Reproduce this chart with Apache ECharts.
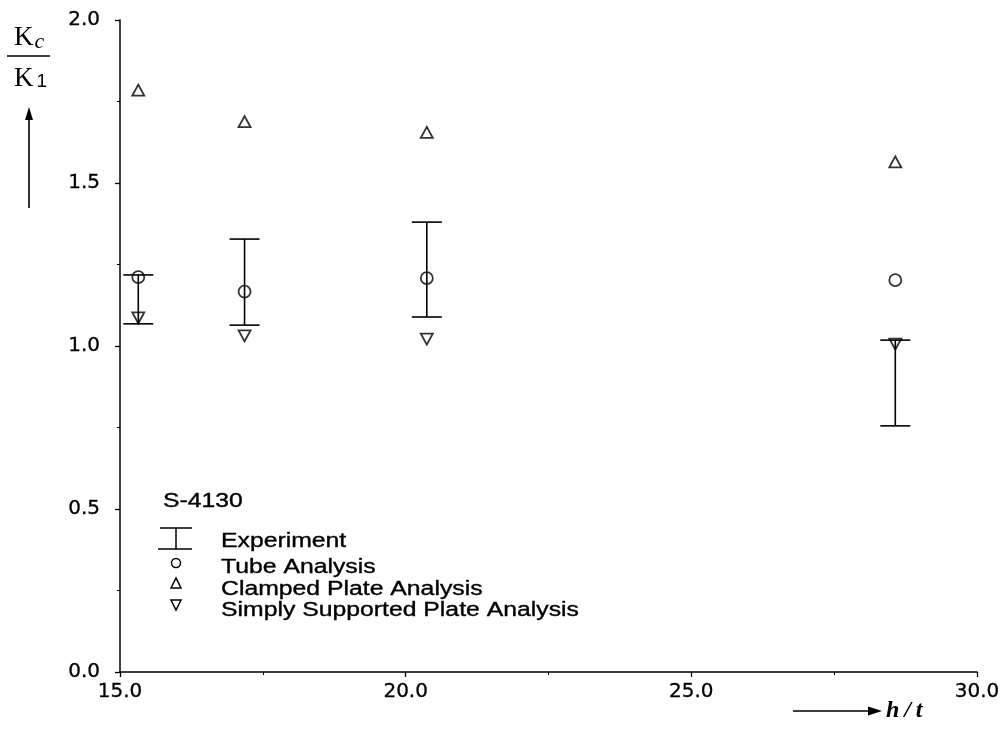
<!DOCTYPE html>
<html>
<head>
<meta charset="utf-8">
<script src="https://cdn.jsdelivr.net/npm/echarts@6/dist/echarts.min.js"></script>
<style>
  html, body { margin: 0; padding: 0; background: #fff; }
  #chart { width: 1005px; height: 740px; }
</style>
</head>
<body>
<div id="chart"></div>
<script>
// h/t ratio of each tested section
const hOverT = [15.32, 17.18, 20.37, 28.57];
// Experimental scatter band (low / high) of Kc/K1
const expLow = [1.068, 1.064, 1.089, 0.755];
const expHigh = [1.218, 1.328, 1.380, 1.018];
// Analytical predictions
const tubeAnalysis = [1.211, 1.167, 1.208, 1.202];
const clampedPlate = [1.785, 1.688, 1.655, 1.565];
const simplySupported = [1.086, 1.031, 1.021, 1.006];

const xTicks = ['15.0', '20.0', '25.0', '30.0'];
const yTicks = ['0.0', '0.5', '1.0', '1.5', '2.0'];

const legendTitle = 'S-4130';
const legendNames = ['Experiment', 'Tube Analysis', 'Clamped Plate Analysis', 'Simply Supported Plate Analysis'];

const font = '"Liberation Sans", Arial, sans-serif';
const tickFont = '"DejaVu Sans", sans-serif';
const serif = '"Liberation Serif", "DejaVu Serif", serif';

function pairs(ys) { return hOverT.map((x, i) => [x, ys[i]]); }

const hollow = { color: 'rgba(0,0,0,0)', borderColor: '#000', borderWidth: 1.8 };
const ink = { stroke: '#000', lineWidth: 1.5, fill: null };

// wide sans text used in the key
function keyText(str, x, yMid) {
  return {
    type: 'text', x: x, y: yMid, scaleX: 1.27,
    style: {
      text: str, fontFamily: font, fontSize: 19.5, fill: '#000',
      stroke: '#000', lineWidth: 0.35,
      verticalAlign: 'middle', align: 'left'
    }
  };
}

const chart = echarts.init(document.getElementById('chart'));

chart.setOption({
  animation: false,
  backgroundColor: '#fff',
  grid: { left: 120, right: 28, top: 20, bottom: 68, containLabel: false },
  xAxis: {
    type: 'value', min: 15, max: 30, interval: 5,
    axisLine: { lineStyle: { color: '#000', width: 1.5 } },
    axisTick: { show: true, length: 5, lineStyle: { color: '#000', width: 1.3 } },
    minorTick: { show: true, splitNumber: 2, length: 3, lineStyle: { color: '#000' } },
    splitLine: { show: false },
    axisLabel: {
      color: '#000', fontFamily: tickFont, fontSize: 20, margin: 10,
      textBorderColor: '#000', textBorderWidth: 0.3,
      formatter: v => xTicks[Math.round((v - 15) / 5)]
    }
  },
  yAxis: {
    type: 'value', min: 0, max: 2, interval: 0.5,
    axisLine: { show: true, lineStyle: { color: '#000', width: 1.5 } },
    axisTick: { show: true, length: 5, lineStyle: { color: '#000', width: 1.3 } },
    minorTick: { show: true, splitNumber: 2, length: 3, lineStyle: { color: '#000' } },
    splitLine: { show: false },
    axisLabel: {
      color: '#000', fontFamily: tickFont, fontSize: 20, margin: 20,
      textBorderColor: '#000', textBorderWidth: 0.3,
      formatter: v => yTicks[Math.round(v / 0.5)]
    }
  },
  series: [
    {
      name: legendNames[0],
      type: 'custom',
      data: hOverT.map((x, i) => [x, expLow[i], expHigh[i]]),
      encode: { x: 0, y: [1, 2] },
      renderItem: function (params, api) {
        const lo = api.coord([api.value(0), api.value(1)]);
        const hi = api.coord([api.value(0), api.value(2)]);
        const half = 15;
        const style = { stroke: '#000', lineWidth: 1.6, fill: null };
        return {
          type: 'group',
          children: [
            { type: 'line', shape: { x1: lo[0], y1: lo[1], x2: hi[0], y2: hi[1] }, style },
            { type: 'line', shape: { x1: hi[0] - half, y1: hi[1], x2: hi[0] + half, y2: hi[1] }, style },
            { type: 'line', shape: { x1: lo[0] - half, y1: lo[1], x2: lo[0] + half, y2: lo[1] }, style }
          ]
        };
      },
      z: 2
    },
    {
      name: legendNames[1], type: 'scatter', symbol: 'circle', symbolSize: 12,
      data: pairs(tubeAnalysis), itemStyle: hollow, z: 3
    },
    {
      name: legendNames[2], type: 'scatter', symbol: 'triangle', symbolSize: [12, 11],
      data: pairs(clampedPlate), itemStyle: hollow, z: 3
    },
    {
      name: legendNames[3], type: 'scatter', symbol: 'triangle', symbolRotate: 180,
      symbolSize: [12, 11], data: pairs(simplySupported), itemStyle: hollow, z: 3
    }
  ],
  graphic: [
    // y-axis quantity: Kc / K1 with upward arrow
    {
      type: 'text', x: 14, y: 38,
      style: {
        text: '{k|K}{s|c}', fill: '#000', verticalAlign: 'middle',
        rich: {
          k: { fontFamily: serif, fontSize: 27, fill: '#000' },
          s: { fontFamily: serif, fontSize: 22, fontStyle: 'italic', fill: '#000', padding: [9, 0, 0, 1] }
        }
      }
    },
    { type: 'line', shape: { x1: 7, y1: 56, x2: 50, y2: 56 }, style: { stroke: '#000', lineWidth: 1.3 } },
    {
      type: 'text', x: 14, y: 79,
      style: {
        text: '{k|K}{s|1}', fill: '#000', verticalAlign: 'middle',
        rich: {
          k: { fontFamily: serif, fontSize: 27, fill: '#000' },
          s: { fontFamily: font, fontSize: 19, fill: '#000', padding: [6, 0, 0, 3] }
        }
      }
    },
    { type: 'line', shape: { x1: 29, y1: 208, x2: 29, y2: 118 }, style: { stroke: '#000', lineWidth: 1.6 } },
    { type: 'polygon', shape: { points: [[29, 107], [25, 120], [33, 120]] }, style: { fill: '#000' } },
    // x-axis quantity: h/t with arrow
    { type: 'line', shape: { x1: 793, y1: 711, x2: 870, y2: 711 }, style: { stroke: '#000', lineWidth: 1.6 } },
    { type: 'polygon', shape: { points: [[882, 711], [868, 706.5], [868, 715.5]] }, style: { fill: '#000' } },
    {
      type: 'text', x: 886, y: 711,
      style: { text: 'h\u2009/\u2009t', fontFamily: serif, fontSize: 24, fontStyle: 'italic', fontWeight: 'bold', fill: '#000', verticalAlign: 'middle' }
    },
    // key
    keyText(legendTitle, 163, 502),
    { type: 'line', shape: { x1: 160, y1: 528, x2: 192, y2: 528 }, style: ink },
    { type: 'line', shape: { x1: 176, y1: 528, x2: 176, y2: 549 }, style: ink },
    { type: 'line', shape: { x1: 158, y1: 549, x2: 192, y2: 549 }, style: ink },
    { type: 'circle', shape: { cx: 176, cy: 563, r: 4.5 }, style: ink },
    { type: 'polygon', shape: { points: [[176, 578], [171, 588], [181, 588]] }, style: ink },
    { type: 'polygon', shape: { points: [[171, 600], [181, 600], [176, 610]] }, style: ink },
    keyText(legendNames[0], 221, 541.5),
    keyText(legendNames[1], 221, 568),
    keyText(legendNames[2], 221, 590),
    keyText(legendNames[3], 221, 611)
  ]
});
</script>
</body>
</html>
